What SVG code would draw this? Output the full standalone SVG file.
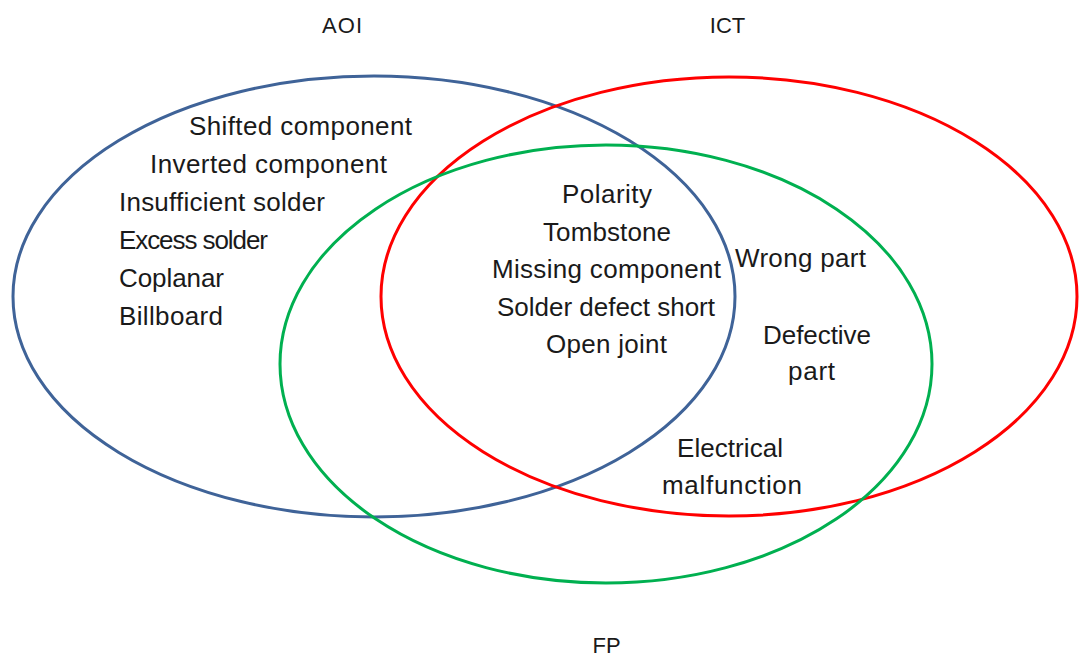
<svg xmlns="http://www.w3.org/2000/svg" width="1083" height="660" viewBox="0 0 1083 660">
<style>
.set{fill:none;stroke-width:3}
.t{font-family:"Liberation Sans",Arial,sans-serif;font-size:26px;fill:#1a1a1a}
.lbl{font-family:"Liberation Sans",Arial,sans-serif;font-size:22px;fill:#1a1a1a;text-anchor:middle}
</style>
<rect width="1083" height="660" fill="#ffffff"/>
<g id="set-aoi">
<ellipse class="set" cx="374" cy="296.5" rx="361" ry="220.5" stroke="#3F6398"/>
<text class="lbl" x="342" y="33" textLength="40">AOI</text>
</g>
<g id="set-ict">
<ellipse class="set" cx="729" cy="296.5" rx="348" ry="219.5" stroke="#FF0000"/>
<text class="lbl" x="727.5" y="33">ICT</text>
</g>
<g id="set-fp">
<ellipse class="set" cx="606" cy="364" rx="326" ry="219" stroke="#00B050"/>
<text class="lbl" x="606.5" y="653">FP</text>
</g>
<g id="aoi-only">
<text class="t" x="189" y="135" textLength="223">Shifted component</text>
<text class="t" x="150" y="173" textLength="237">Inverted component</text>
<text class="t" x="119" y="211" textLength="206">Insufficient solder</text>
<text class="t" x="119" y="249" textLength="149">Excess solder</text>
<text class="t" x="119" y="287" textLength="105">Coplanar</text>
<text class="t" x="119" y="325" textLength="104">Billboard</text>
</g>
<g id="all-three">
<text class="t" x="562" y="203" textLength="90">Polarity</text>
<text class="t" x="543" y="240.5" textLength="128">Tombstone</text>
<text class="t" x="492" y="278" textLength="229">Missing component</text>
<text class="t" x="497" y="315.5" textLength="218">Solder defect short</text>
<text class="t" x="546" y="353" textLength="121">Open joint</text>
</g>
<g id="ict-fp">
<text class="t" x="735" y="267" textLength="131">Wrong part</text>
<text class="t" x="763" y="344" textLength="108">Defective</text>
<text class="t" x="788" y="380" textLength="47">part</text>
<text class="t" x="677" y="457" textLength="106">Electrical</text>
<text class="t" x="662" y="494" textLength="140">malfunction</text>
</g>
<g id="connectors"></g>
</svg>
